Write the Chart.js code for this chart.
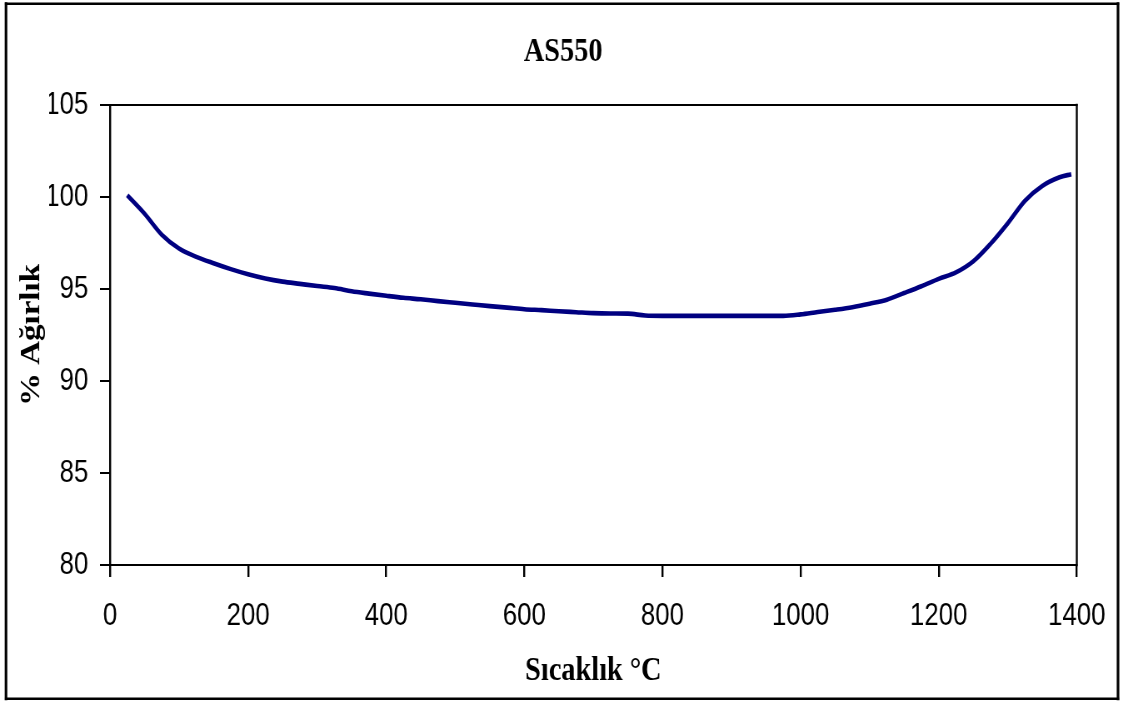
<!DOCTYPE html>
<html>
<head>
<meta charset="utf-8">
<script src="https://cdn.jsdelivr.net/npm/chart.js@4.4.1/dist/chart.umd.min.js"></script>
<style>
  html, body { margin: 0; padding: 0; background: #fff; overflow: hidden; }
  /* the chart is laid out on a wider canvas and squeezed horizontally,
     giving the tall, narrow lettering of the original figure */
  #wrap { width: 1348px; height: 702px; transform: scaleX(0.83309); transform-origin: 0 0; }
</style>
</head>
<body>
<div id="wrap"><canvas id="c" width="1348" height="702"></canvas></div>
<script>
// TGA curve of sample AS550: temperature (°C) vs. remaining weight (%)
const temperatures = [25, 50, 75, 100, 125, 150, 175, 200, 225, 250, 275, 300, 325, 350, 375, 400,
  425, 450, 475, 500, 525, 550, 575, 600, 625, 650, 675, 700, 725, 750, 775, 800, 825, 850, 875,
  900, 925, 950, 975, 1000, 1025, 1050, 1075, 1100, 1125, 1150, 1175, 1200, 1225, 1250, 1275,
  1300, 1325, 1350, 1375, 1392];
const weightPercent = [100.1, 99.1, 97.95, 97.2, 96.75, 96.4, 96.08, 95.8, 95.57, 95.4, 95.28,
  95.16, 95.05, 94.88, 94.75, 94.63, 94.52, 94.44, 94.34, 94.25, 94.16, 94.07, 93.99, 93.9, 93.85,
  93.79, 93.74, 93.69, 93.67, 93.66, 93.56, 93.54, 93.54, 93.54, 93.54, 93.54, 93.54, 93.54, 93.54,
  93.62, 93.75, 93.87, 94.01, 94.2, 94.42, 94.78, 95.15, 95.55, 95.9, 96.5, 97.45, 98.57, 99.8,
  100.6, 101.07, 101.24];

const xTickValues = [0, 200, 400, 600, 800, 1000, 1200, 1400];
const yTickValues = [80, 85, 90, 95, 100, 105];

const chartTitle = 'AS550';
const xTitle = 'Sıcaklık °C';
const yTitle = '% Ağırlık';

const SX = 1348 / 1123;          // horizontal stretch of the canvas
const SANS = "'Liberation Sans', Arial, sans-serif";
const SERIF = "'Liberation Serif', 'Times New Roman', serif";
const PAD_LEFT = 59;

// plot frame (top / right edges) and the outer border of the figure
const framePlugin = {
  id: 'frame',
  afterDraw(chart) {
    const ctx = chart.ctx;
    const a = chart.chartArea;
    ctx.save();
    ctx.strokeStyle = '#000';
    ctx.lineCap = 'square';
    ctx.lineWidth = 2;
    ctx.beginPath(); ctx.moveTo(a.left, a.top); ctx.lineTo(a.right, a.top); ctx.stroke();
    ctx.lineWidth = 2 * SX;
    ctx.beginPath(); ctx.moveTo(a.right, a.top); ctx.lineTo(a.right, a.bottom); ctx.stroke();

    const L = 6 * SX, R = 1118 * SX, T = 3.7, B = 698.7;
    ctx.lineWidth = 2.6;
    ctx.beginPath(); ctx.moveTo(L, T); ctx.lineTo(R, T); ctx.stroke();
    ctx.beginPath(); ctx.moveTo(L, B); ctx.lineTo(R, B); ctx.stroke();
    ctx.lineWidth = 2.6 * SX;
    ctx.beginPath(); ctx.moveTo(L, T); ctx.lineTo(L, B); ctx.stroke();
    ctx.beginPath(); ctx.moveTo(R, T); ctx.lineTo(R, B); ctx.stroke();
    ctx.restore();
  }
};

const points = temperatures.map((t, i) => ({ x: t, y: weightPercent[i] }));

new Chart(document.getElementById('c'), {
  type: 'line',
  data: {
    datasets: [{
      data: points,
      borderColor: '#000080',
      borderWidth: 4.6,
      pointRadius: 0,
      cubicInterpolationMode: 'monotone',
      fill: false
    }]
  },
  options: {
    responsive: false,
    animation: false,
    devicePixelRatio: 1,
    layout: { padding: { left: PAD_LEFT, right: 55, top: 0, bottom: 8 } },
    plugins: {
      legend: { display: false },
      tooltip: { enabled: false },
      title: {
        display: true,
        text: chartTitle,
        color: '#000',
        font: { family: SERIF, size: 34, weight: 'bold' },
        padding: { top: 32, bottom: 32.2 }
      }
    },
    scales: {
      x: {
        type: 'linear',
        min: 0,
        max: 1400,
        afterBuildTicks(scale) { scale.ticks = xTickValues.map(v => ({ value: v })); },
        afterFit(scale) { scale.height = 702 - 8 - 565; },
        border: { display: true, color: '#000', width: 2 },
        grid: { drawOnChartArea: false, drawTicks: true, tickLength: 12, color: '#000', lineWidth: 2 * SX },
        ticks: {
          color: '#000', padding: 21, maxRotation: 0,
          font: { family: SANS, size: 31 },
          callback: v => String(v)
        },
        title: {
          display: true, text: xTitle, color: '#000',
          font: { family: SERIF, size: 34, weight: 'bold' },
          padding: { top: 0, bottom: 2 }
        }
      },
      y: {
        type: 'linear',
        min: 80,
        max: 105,
        afterBuildTicks(scale) { scale.ticks = yTickValues.map(v => ({ value: v })); },
        afterFit(scale) { scale.width = 132 - PAD_LEFT; },
        border: { display: true, color: '#000', width: 2 * SX },
        grid: { drawOnChartArea: false, drawTicks: true, tickLength: 12, color: '#000', lineWidth: 2 },
        ticks: {
          color: '#000', padding: 14,
          font: { family: SANS, size: 31 },
          callback: v => String(v)
        },
        title: {
          display: true, text: yTitle, color: '#000',
          font: { family: SERIF, size: 33, weight: 'bold' },
          padding: { top: 38 - PAD_LEFT - 19.8, bottom: 0 }
        }
      }
    }
  },
  plugins: [framePlugin]
});
</script>
</body>
</html>
